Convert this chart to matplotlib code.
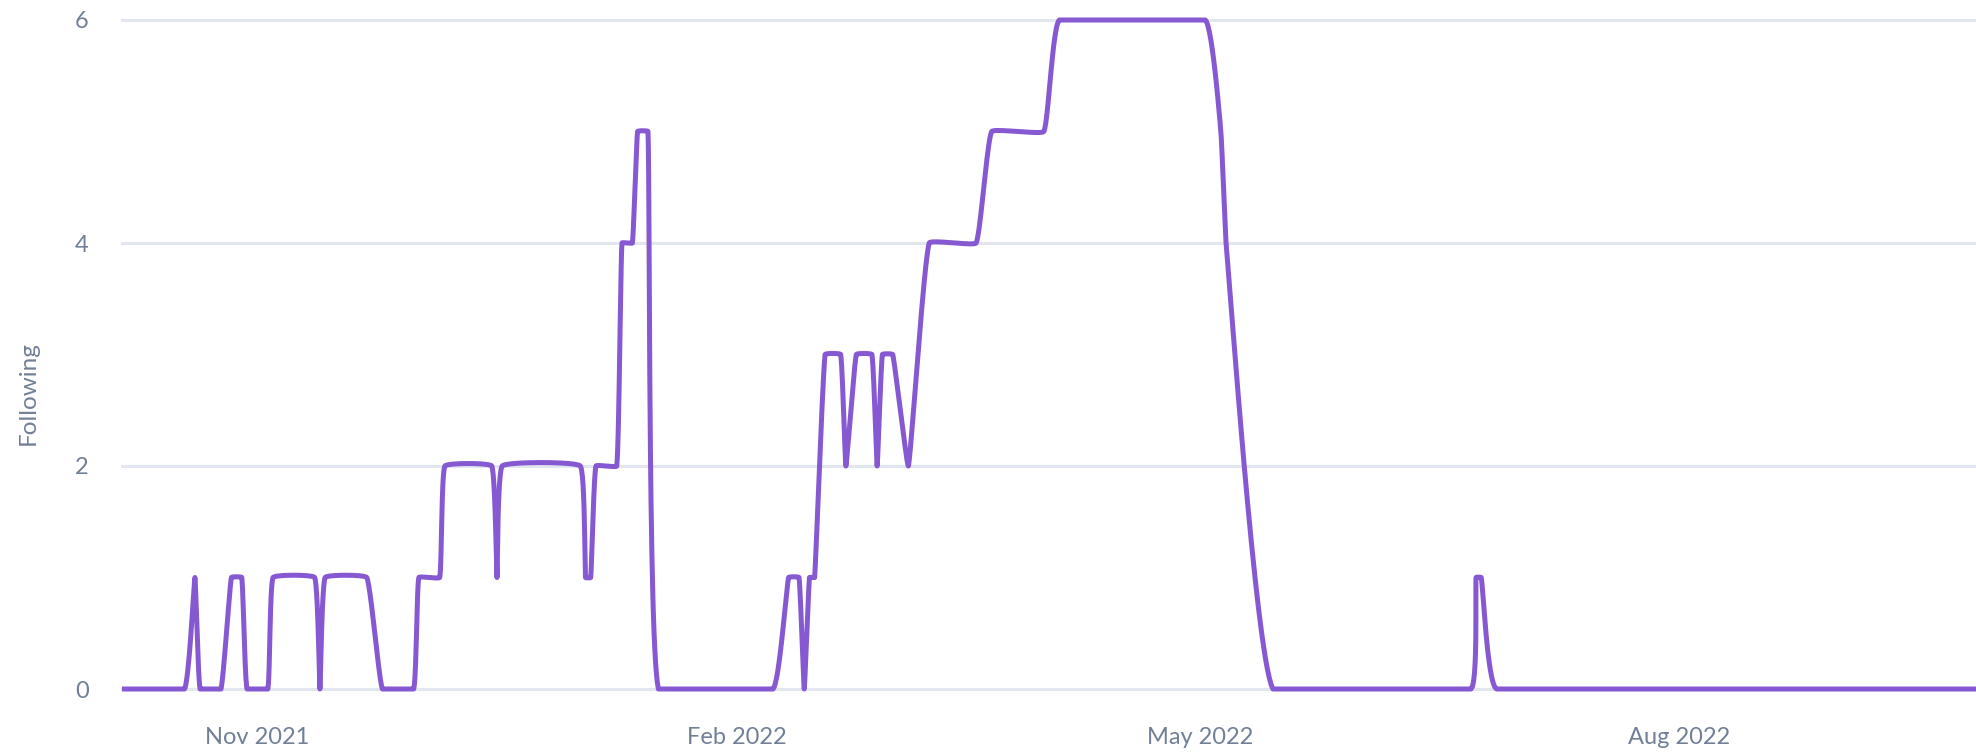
import numpy as np
import pandas as pd
import matplotlib
matplotlib.use("Agg")
from matplotlib import pyplot as plt
import matplotlib.dates as mdates

plt.rcParams['font.family'] = ['Lato', 'DejaVu Sans']

# points where the "following" count changes
dates = [
    "2021-10-06", "2021-10-18", "2021-10-20", "2021-10-21", "2021-10-25",
    "2021-10-27", "2021-10-29", "2021-10-30", "2021-11-03", "2021-11-04",
    "2021-11-12", "2021-11-13", "2021-11-14", "2021-11-22", "2021-11-25",
    "2021-12-01", "2021-12-02", "2021-12-06", "2021-12-07", "2021-12-16",
    "2021-12-17", "2021-12-18", "2022-01-02", "2022-01-03", "2022-01-04",
    "2022-01-05", "2022-01-09", "2022-01-10", "2022-01-12", "2022-01-13",
    "2022-01-15", "2022-01-17", "2022-02-08", "2022-02-11", "2022-02-13",
    "2022-02-14", "2022-02-15", "2022-02-16", "2022-02-18", "2022-02-21",
    "2022-02-22", "2022-02-24", "2022-02-27", "2022-02-28", "2022-03-01",
    "2022-03-03", "2022-03-06", "2022-03-10", "2022-03-19", "2022-03-22",
    "2022-04-01", "2022-04-04", "2022-05-02", "2022-05-05", "2022-05-06",
    "2022-05-15", "2022-06-22", "2022-06-23", "2022-06-24", "2022-06-27",
    "2022-09-27",
]
following = [
    0, 0, 1, 0, 0,
    1, 1, 0, 0, 1,
    1, 0, 1, 1, 0,
    0, 1, 1, 2, 2,
    1, 2, 2, 1, 1,
    2, 2, 4, 4, 5,
    5, 0, 0, 1, 1,
    0, 1, 1, 3, 3,
    2, 3, 3, 2, 3,
    3, 2, 4, 4, 5,
    5, 6, 6, 5, 4,
    0, 0, 1, 1, 0,
    0,
]
y_ticks = [0, 2, 4, 6]

line_color = "#8658D1"
text_color = "#718096"
grid_color = "#E2E6EE"


def spline_path(P, t=0.4, lo=None, hi=None, n=30):
    # tension spline like chart.js, worked out in pixel space
    N = len(P)
    cp_in = np.zeros_like(P)
    cp_out = np.zeros_like(P)
    for i in range(N):
        prev = P[i - 1] if i > 0 else P[i]
        nxt = P[i + 1] if i < N - 1 else P[i]
        d01 = np.hypot(*(P[i] - prev))
        d12 = np.hypot(*(nxt - P[i]))
        tot = d01 + d12
        s01 = d01 / tot if tot else 0
        s12 = d12 / tot if tot else 0
        cp_in[i] = P[i] - t * s01 * (nxt - prev)
        cp_out[i] = P[i] + t * s12 * (nxt - prev)
    if lo is not None:
        cp_in = np.clip(cp_in, lo, hi)
        cp_out = np.clip(cp_out, lo, hi)
    u = np.linspace(0, 1, n)[:, None]
    pts = []
    for i in range(N - 1):
        b = ((1 - u)**3 * P[i] + 3 * (1 - u)**2 * u * cp_out[i]
             + 3 * (1 - u) * u**2 * cp_in[i + 1] + u**3 * P[i + 1])
        pts.append(b)
    return np.vstack(pts)


xd = mdates.date2num(pd.to_datetime(dates))

fig = plt.figure(figsize=(19.76, 7.53), dpi=100)
ax = fig.add_axes([122 / 1976, 1 - 689 / 753, 1 - 122 / 1976, (689 - 20) / 753])
ax.set_xlim(xd[0], xd[-1])
ax.set_ylim(0, 6)

for yt in y_ticks:
    ax.axhline(yt, color=grid_color, lw=2.2, zorder=1, clip_on=False)

pix = ax.transData.transform(np.column_stack([xd, following]))
lo = ax.transData.transform([(xd[0], 0)])[0]
hi = ax.transData.transform([(xd[-1], 6)])[0]
curve = ax.transData.inverted().transform(spline_path(pix, 0.1, lo, hi))
ax.plot(curve[:, 0], curve[:, 1], color=line_color, lw=3.6, solid_joinstyle='round',
        solid_capstyle='butt', zorder=3, clip_on=False)

ax.set_yticks(y_ticks)
ax.xaxis.set_major_locator(mdates.MonthLocator(bymonth=[2, 5, 8, 11]))
ax.xaxis.set_major_formatter(mdates.DateFormatter('%b %Y'))

for sp in ax.spines.values():
    sp.set_visible(False)
ax.tick_params(axis='both', length=0, labelsize=17, colors=text_color)
ax.tick_params(axis='y', pad=24)
ax.tick_params(axis='x', pad=27)

fig.text(28 / 1976, 1 - 393 / 753, "Following", rotation=90, ha='center', va='center',
         fontsize=17.5, color=text_color)

fig.savefig("out.png", dpi=100, facecolor='white')
